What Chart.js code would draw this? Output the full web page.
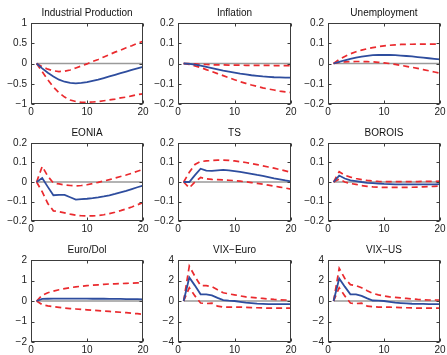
<!DOCTYPE html>
<html>
<head>
<meta charset="utf-8">
<script src="https://cdn.jsdelivr.net/npm/chart.js@4.4.0/dist/chart.umd.min.js"></script>
<style>
  body { margin: 0; background: #fff; }
  #wrap { position: relative; width: 447px; height: 355px; overflow: hidden; }
  .cell { position: absolute; }
</style>
</head>
<body>
<div id="wrap"></div>
<script>
// horizon (months after the shock)
const horizon = [1, 2, 3, 4, 5, 6, 7, 8, 9, 10, 11, 12, 13, 14, 15, 16, 17, 18, 19, 20];

const titles = ["Industrial Production", "Inflation", "Unemployment", "EONIA", "TS", "BOROIS", "Euro/Dol", "VIX\u2212Euro", "VIX\u2212US"];
const yMax = [1, 0.2, 0.2, 0.2, 0.2, 0.2, 2, 4, 4];
const xTicks = [0, 10, 20];

// median response + upper / lower bands
const ipMid = [0, -0.12, -0.23, -0.32, -0.4, -0.45, -0.48, -0.49, -0.48, -0.46, -0.43, -0.4, -0.36, -0.32, -0.28, -0.24, -0.2, -0.16, -0.12, -0.08];
const ipUp = [0, -0.08, -0.14, -0.18, -0.2, -0.19, -0.16, -0.11, -0.06, -0.01, 0.05, 0.1, 0.16, 0.22, 0.28, 0.33, 0.39, 0.44, 0.5, 0.55];
const ipLow = [0, -0.2, -0.4, -0.58, -0.72, -0.83, -0.9, -0.94, -0.96, -0.96, -0.95, -0.94, -0.92, -0.9, -0.88, -0.85, -0.83, -0.8, -0.77, -0.75];

const infMid = [0, -0.002, -0.006, -0.011, -0.017, -0.023, -0.029, -0.035, -0.04, -0.045, -0.05, -0.054, -0.058, -0.061, -0.064, -0.066, -0.068, -0.069, -0.07, -0.07];
const infUp = [0, 0, -0.002, -0.004, -0.005, -0.006, -0.007, -0.007, -0.008, -0.008, -0.008, -0.009, -0.009, -0.009, -0.009, -0.009, -0.01, -0.01, -0.01, -0.01];
const infLow = [0, -0.005, -0.012, -0.02, -0.03, -0.04, -0.05, -0.06, -0.07, -0.08, -0.09, -0.098, -0.106, -0.113, -0.12, -0.126, -0.131, -0.136, -0.14, -0.143];

const unMid = [0, 0.008, 0.016, 0.023, 0.029, 0.034, 0.038, 0.041, 0.042, 0.043, 0.042, 0.041, 0.039, 0.037, 0.035, 0.032, 0.029, 0.026, 0.023, 0.02];
const unUp = [0, 0.02, 0.035, 0.048, 0.058, 0.066, 0.073, 0.078, 0.083, 0.087, 0.09, 0.092, 0.094, 0.095, 0.095, 0.096, 0.096, 0.096, 0.096, 0.095];
const unLow = [0, 0.005, 0.008, 0.009, 0.01, 0.01, 0.009, 0.008, 0.006, 0.003, 0, -0.004, -0.009, -0.014, -0.019, -0.024, -0.03, -0.036, -0.042, -0.048];

const eoMid = [0, 0.02, -0.025, -0.068, -0.066, -0.066, -0.078, -0.09, -0.088, -0.086, -0.083, -0.079, -0.074, -0.068, -0.061, -0.053, -0.045, -0.036, -0.027, -0.018];
const eoUp = [0, 0.08, 0.03, -0.005, -0.01, -0.015, -0.018, -0.02, -0.018, -0.014, -0.008, -0.002, 0.005, 0.012, 0.02, 0.028, 0.036, 0.045, 0.055, 0.065];
const eoLow = [0, -0.05, -0.11, -0.148, -0.152, -0.158, -0.165, -0.17, -0.173, -0.174, -0.174, -0.172, -0.168, -0.162, -0.155, -0.147, -0.138, -0.128, -0.117, -0.105];

const tsMid = [0, 0, 0.035, 0.068, 0.058, 0.057, 0.06, 0.062, 0.06, 0.056, 0.052, 0.047, 0.042, 0.036, 0.031, 0.025, 0.019, 0.014, 0.008, 0.003];
const tsUp = [0, 0.05, 0.09, 0.105, 0.108, 0.11, 0.112, 0.112, 0.111, 0.108, 0.104, 0.1, 0.095, 0.089, 0.083, 0.077, 0.071, 0.064, 0.057, 0.05];
const tsLow = [0, -0.03, 0, 0.023, 0.016, 0.013, 0.012, 0.011, 0.009, 0.007, 0.004, 0.001, -0.003, -0.007, -0.011, -0.016, -0.021, -0.026, -0.031, -0.037];

const boMid = [0, 0.033, 0.018, 0.008, 0.005, 0, -0.004, -0.006, -0.008, -0.01, -0.011, -0.012, -0.012, -0.012, -0.012, -0.012, -0.012, -0.012, -0.012, -0.011];
const boUp = [0, 0.053, 0.035, 0.025, 0.018, 0.012, 0.008, 0.005, 0.003, 0.002, 0.002, 0.002, 0.002, 0.002, 0.002, 0.002, 0.003, 0.003, 0.003, 0.004];
const boLow = [0, 0.015, 0, -0.008, -0.012, -0.018, -0.022, -0.025, -0.027, -0.028, -0.028, -0.028, -0.028, -0.028, -0.027, -0.026, -0.025, -0.024, -0.022, -0.02];

const edMid = [0, 0.1, 0.11, 0.12, 0.12, 0.12, 0.12, 0.12, 0.12, 0.12, 0.11, 0.11, 0.11, 0.1, 0.1, 0.1, 0.09, 0.09, 0.09, 0.08];
const edUp = [0, 0.28, 0.4, 0.48, 0.55, 0.6, 0.65, 0.69, 0.72, 0.75, 0.77, 0.79, 0.81, 0.83, 0.84, 0.85, 0.86, 0.87, 0.88, 0.89];
const edLow = [0, -0.18, -0.24, -0.28, -0.31, -0.34, -0.37, -0.39, -0.41, -0.43, -0.45, -0.47, -0.49, -0.51, -0.53, -0.55, -0.57, -0.6, -0.62, -0.65];

const veMid = [0, 2.3, 1.5, 0.65, 0.65, 0.55, 0.3, 0.08, 0.03, 0, -0.08, -0.15, -0.2, -0.25, -0.28, -0.3, -0.3, -0.3, -0.3, -0.3];
const veUp = [0, 3.4, 2.4, 1.5, 1.5, 1.4, 1.1, 0.8, 0.7, 0.6, 0.5, 0.4, 0.35, 0.3, 0.25, 0.2, 0.15, 0.12, 0.1, 0.1];
const veLow = [0, 1.3, 0.5, -0.2, -0.25, -0.2, -0.5, -0.6, -0.6, -0.6, -0.6, -0.62, -0.64, -0.66, -0.68, -0.7, -0.7, -0.7, -0.7, -0.7];

const vuMid = [0, 2.2, 1.4, 0.65, 0.65, 0.5, 0.25, 0.05, 0.03, 0, -0.08, -0.15, -0.2, -0.24, -0.27, -0.28, -0.29, -0.3, -0.3, -0.3];
const vuUp = [0, 3.2, 2.2, 1.6, 1.5, 1.3, 1.0, 0.75, 0.6, 0.5, 0.4, 0.35, 0.3, 0.25, 0.2, 0.15, 0.12, 0.1, 0.1, 0.1];
const vuLow = [0, 1.3, 0.5, -0.2, -0.25, -0.2, -0.5, -0.55, -0.6, -0.6, -0.6, -0.62, -0.64, -0.66, -0.68, -0.7, -0.7, -0.7, -0.7, -0.7];

const panels = [
  [ipMid, ipUp, ipLow], [infMid, infUp, infLow], [unMid, unUp, unLow],
  [eoMid, eoUp, eoLow], [tsMid, tsUp, tsLow], [boMid, boUp, boLow],
  [edMid, edUp, edLow], [veMid, veUp, veLow], [vuMid, vuUp, vuLow]
];

// plot area boxes (left, right) per column, (top, bottom) per row
const colX = [[31, 143], [178, 291], [328, 440]];
const rowY = [[23, 104], [143, 221], [260, 342]];

const FONT = "'Liberation Sans', Arial, sans-serif";
const Y_W = 34, TOP_H = 22, X_H = 18, RIGHT_PAD = 9;

const toXY = (arr) => arr.map((v, i) => ({ x: horizon[i], y: v }));
const fmt = (v) => {
  const s = String(Number(v.toFixed(2)));
  return s.replace("-", "\u2212");
};

// matlab-like box with inward ticks, title centred over the axes
const boxPlugin = {
  id: "box",
  afterDatasetsDraw(chart) {
    const { ctx, chartArea: a, scales } = chart;
    ctx.save();
    ctx.strokeStyle = "#3c3c3c";
    ctx.lineWidth = 1;
    const l = Math.round(a.left) + 0.5, r = Math.round(a.right) - 0.5;
    const t = Math.round(a.top) + 0.5, b = Math.round(a.bottom) - 0.5;
    ctx.strokeRect(l, t, r - l, b - t);
    ctx.beginPath();
    scales.x.ticks.forEach(tk => {
      const px = Math.round(scales.x.getPixelForValue(tk.value)) + 0.5;
      ctx.moveTo(px, b); ctx.lineTo(px, b - 3);
      ctx.moveTo(px, t); ctx.lineTo(px, t + 3);
    });
    scales.y.ticks.forEach(tk => {
      const py = Math.round(scales.y.getPixelForValue(tk.value)) + 0.5;
      ctx.moveTo(l, py); ctx.lineTo(l + 3, py);
      ctx.moveTo(r, py); ctx.lineTo(r - 3, py);
    });
    ctx.stroke();
    ctx.fillStyle = "#111";
    ctx.font = "10px " + FONT;
    ctx.textAlign = "center";
    ctx.textBaseline = "middle";
    ctx.fillText(chart.options.plugins.panelTitle, (a.left + a.right) / 2, a.top - 10);
    ctx.restore();
  }
};

const wrap = document.getElementById("wrap");

panels.forEach((p, k) => {
  const [xl, xr] = colX[k % 3];
  const [yt, yb] = rowY[Math.floor(k / 3)];
  const div = document.createElement("div");
  div.className = "cell";
  div.style.left = (xl - Y_W) + "px";
  div.style.top = (yt - TOP_H) + "px";
  div.style.width = (xr - xl + Y_W + RIGHT_PAD) + "px";
  div.style.height = (yb - yt + TOP_H + X_H) + "px";
  const cv = document.createElement("canvas");
  div.appendChild(cv);
  wrap.appendChild(div);

  const m = yMax[k];
  const zero = horizon.map(() => 0);
  new Chart(cv, {
    type: "line",
    data: {
      datasets: [
        { data: toXY(p[0]), borderColor: "#2e4d9e", borderWidth: 1.8 },
        { data: toXY(p[1]), borderColor: "#ea2a2e", borderWidth: 1.7, borderDash: [6, 4] },
        { data: toXY(p[2]), borderColor: "#ea2a2e", borderWidth: 1.7, borderDash: [6, 4] },
        { data: toXY(zero), borderColor: "#9a9a9a", borderWidth: 1.4 }
      ]
    },
    options: {
      responsive: true,
      maintainAspectRatio: false,
      animation: false,
      layout: { autoPadding: false, padding: { left: 0, top: TOP_H, right: RIGHT_PAD, bottom: 0 } },
      elements: { point: { radius: 0 }, line: { tension: 0, fill: false } },
      plugins: {
        legend: { display: false },
        tooltip: { enabled: false },
        title: { display: false },
        panelTitle: titles[k]
      },
      scales: {
        x: {
          type: "linear",
          min: 0,
          max: 20,
          afterBuildTicks: (s) => { s.ticks = xTicks.map(v => ({ value: v })); },
          afterFit: (s) => { s.height = X_H; },
          grid: { display: false, drawTicks: false },
          border: { display: false },
          ticks: { color: "#222", padding: 2, maxRotation: 0, font: { family: FONT, size: 10 } }
        },
        y: {
          min: -m,
          max: m,
          ticks: { stepSize: m / 2, color: "#222", padding: 4, callback: fmt, font: { family: FONT, size: 10 } },
          afterFit: (s) => { s.width = Y_W; },
          grid: { display: false, drawTicks: false },
          border: { display: false }
        }
      }
    },
    plugins: [boxPlugin]
  });
});
</script>
</body>
</html>
